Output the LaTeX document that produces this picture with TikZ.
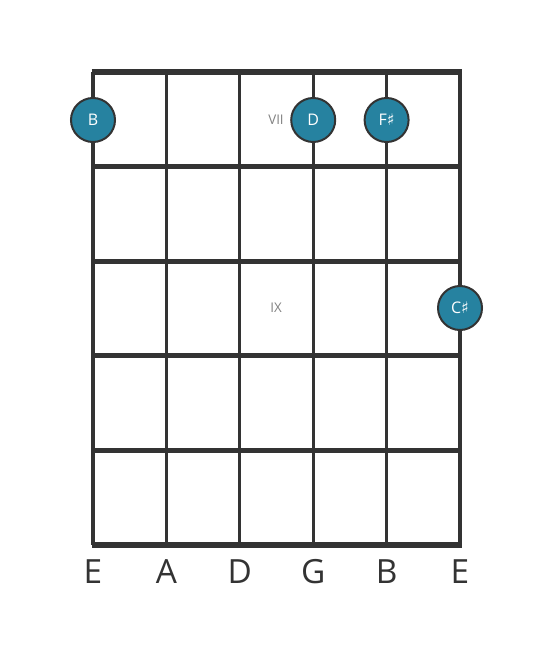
\documentclass[tikz,border=0pt]{standalone}
\usepackage{fontspec}
\setmainfont{Open Sans}
\newfontfamily\symfont{DejaVu Sans}
\newcommand{\shp}{{\symfont\char"266F}}
\definecolor{gridgray}{RGB}{51,51,51}
\definecolor{noteteal}{RGB}{38,130,160}
\definecolor{labelgray}{RGB}{130,130,130}
\tikzset{every picture/.style={line width=0.75pt}}
\tikzset{
  notedot/.style={circle,draw=gridgray,line width=1.5pt,fill=noteteal,minimum size=33pt,inner sep=0pt,text=white,font=\fontsize{12}{12}\selectfont},
  fretlabel/.style={text=labelgray,font=\fontsize{10}{10}\selectfont},
  stringlabel/.style={text=gridgray,font=\fontsize{25}{25}\selectfont}
}
\begin{document}
\begin{tikzpicture}[x=0.75pt,y=0.75pt,yscale=-1,xscale=1]
\useasboundingbox (0,0) rectangle (553,656);
\fill[white] (0,0) rectangle (553,656);

%Strings
\foreach \sx in {93,166.4,239.8,313.2,386.6,460}
  \draw[gridgray,line width=2.3pt] (\sx,72) -- (\sx,545);
%Frets
\foreach \fy in {72,166.6,261.2,355.8,450.4,545}
  \draw[gridgray,line width=3.8pt] (91.5,\fy) -- (461.5,\fy);

% Text Node
\node[fretlabel] (vii) at (276,120) {VII};
\node[fretlabel] (ix) at (276,308) {IX};

%Notes
\node[notedot] (nB) at (93,120) {B};
\node[notedot] (nD) at (313.2,120) {D};
\node[notedot] (nFs) at (386.6,120) {F\shp};
\node[notedot] (nCs) at (460,308) {C\shp};

% Text Node
\node[stringlabel] (sE1) at (93,572) {E};
\node[stringlabel] (sA) at (166.4,572) {A};
\node[stringlabel] (sD) at (239.8,572) {D};
\node[stringlabel] (sG) at (313.2,572) {G};
\node[stringlabel] (sB) at (386.6,572) {B};
\node[stringlabel] (sE2) at (460,572) {E};

\end{tikzpicture}
\end{document}
